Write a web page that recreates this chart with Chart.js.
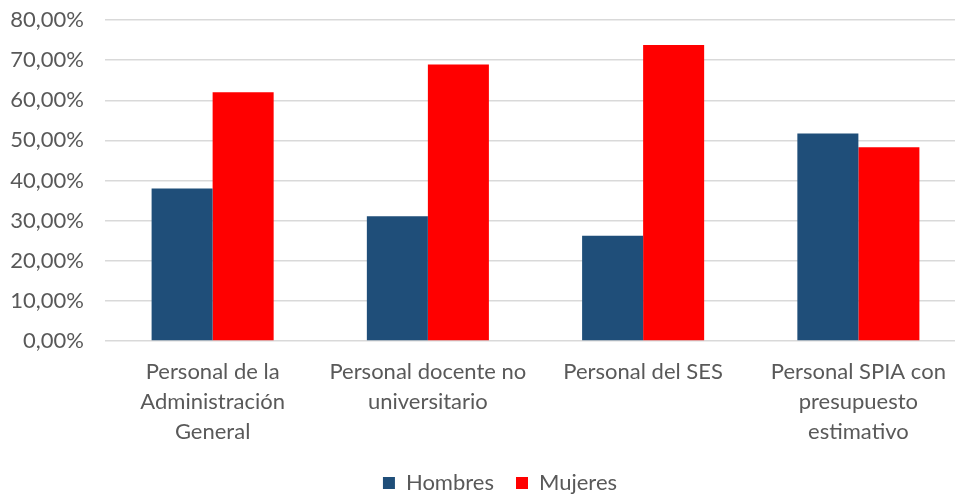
<!DOCTYPE html>
<html>
<head>
<meta charset="utf-8">
<script src="https://cdn.jsdelivr.net/npm/chart.js@4"></script>
<style>
  html, body { margin: 0; padding: 0; background: #fff; overflow: hidden; }
  #wrap { width: 955px; height: 498px; overflow: hidden; }
</style>
</head>
<body>
<div id="wrap"><canvas id="chart" width="1000" height="504"></canvas></div>
<script>
// categorías
const categories = [
    ['Personal de la', 'Administración', 'General'],
    ['Personal docente no', 'universitario'],
    ['Personal del SES'],
    ['Personal SPIA con', 'presupuesto', 'estimativo']
];

// porcentajes por sexo
const hombres = [38.0, 31.1, 26.2, 51.7];
const mujeres = [62.0, 68.9, 73.8, 48.3];

// ticks del eje Y
const yTicks = [0, 10, 20, 30, 40, 50, 60, 70, 80];

const textColor = '#595959';
const font = { family: 'Lato', size: 22 };

// centra la leyenda bajo toda la figura (no solo bajo el área del gráfico)
const legendShift = {
    id: 'legendShift',
    afterLayout(chart) {
        chart.legend.left += 17;
        chart.legend.right += 17;
    }
};

const ctx = document.getElementById('chart').getContext('2d');

new Chart(ctx, {
    type: 'bar',
    data: {
        labels: categories,
        datasets: [
            { label: 'Hombres', data: hombres, backgroundColor: '#1F4E79' },
            { label: 'Mujeres', data: mujeres, backgroundColor: '#FF0000' }
        ]
    },
    plugins: [legendShift],
    options: {
        responsive: false,
        animation: false,
        layout: { padding: { top: 20, right: 34, left: 0, bottom: 0 } },
        datasets: {
            bar: { barPercentage: 1, categoryPercentage: 0.567 }
        },
        plugins: {
            legend: {
                position: 'bottom',
                labels: {
                    color: textColor,
                    font: font,
                    boxWidth: 12,
                    boxHeight: 12,
                    padding: 22
                }
            },
            tooltip: { enabled: false }
        },
        scales: {
            y: {
                min: 0,
                max: 80,
                afterBuildTicks: (scale) => {
                    scale.ticks = yTicks.map(v => ({ value: v }));
                },
                afterFit: (scale) => {
                    scale.width = 105;
                    scale.paddingTop = 0;
                    scale.paddingBottom = 0;
                },
                grid: { color: '#d9d9d9', lineWidth: 1.5, drawTicks: false },
                border: { display: false },
                ticks: {
                    color: textColor,
                    font: font,
                    padding: 21,
                    callback: (v) => v.toFixed(2).replace('.', ',') + '%'
                }
            },
            x: {
                grid: { display: false },
                border: { display: false },
                afterFit: (scale) => { scale.height = 109; },
                ticks: {
                    color: textColor,
                    font: { family: 'Lato', size: 22, lineHeight: 1.36 },
                    padding: 8,
                    maxRotation: 0,
                    autoSkip: false
                }
            }
        }
    }
});
</script>
</body>
</html>
